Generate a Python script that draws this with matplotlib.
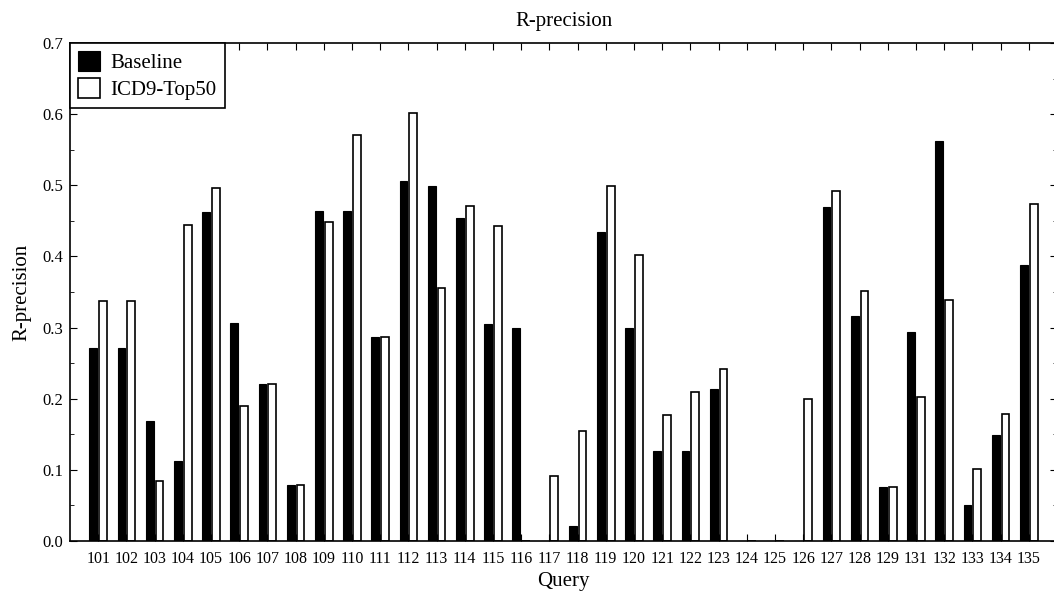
import numpy as np
import matplotlib
matplotlib.use('Agg')
import matplotlib.pyplot as plt
from matplotlib.ticker import MultipleLocator, FormatStrFormatter

plt.rcParams['font.family'] = ['Liberation Serif', 'DejaVu Serif']

queries = ['101', '102', '103', '104', '105', '106', '107', '108', '109', '110',
           '111', '112', '113', '114', '115', '116', '117', '118', '119', '120',
           '121', '122', '123', '124', '125', '126', '127', '128', '129', '131',
           '132', '133', '134', '135']
baseline = [0.271, 0.271, 0.168, 0.113, 0.462, 0.306, 0.220, 0.079, 0.464, 0.464,
            0.287, 0.506, 0.499, 0.454, 0.305, 0.299, 0.0, 0.021, 0.435, 0.299,
            0.126, 0.127, 0.214, 0.0, 0.0, 0.0, 0.470, 0.316, 0.076, 0.294,
            0.562, 0.051, 0.149, 0.388]
icd9 = [0.337, 0.337, 0.085, 0.444, 0.496, 0.190, 0.220, 0.079, 0.448, 0.570,
        0.287, 0.601, 0.355, 0.471, 0.443, 0.0, 0.092, 0.155, 0.499, 0.402,
        0.177, 0.209, 0.242, 0.0, 0.0, 0.200, 0.492, 0.351, 0.076, 0.203,
        0.339, 0.101, 0.178, 0.473]

x = np.arange(len(queries))
w = 0.28

fig = plt.figure(figsize=(10.54, 5.97), dpi=100)
# right spine sits just off the picture, as in the scanned original
ax = fig.add_axes([70/1054, 1 - 541/597, (1057 - 70)/1054, (541 - 43)/597])

ax.bar(x - 0.175, baseline, w, color='black', edgecolor='black', linewidth=0.8, label='Baseline')
ax.bar(x + 0.175, icd9, w, color='white', edgecolor='black', linewidth=1.2, label='ICD9-Top50')

ax.set_xlim(-1, 34)
ax.set_ylim(0, 0.7)
ax.set_xticks(x)
ax.set_xticklabels(queries, fontsize=11.5)
ax.yaxis.set_major_locator(MultipleLocator(0.1))
ax.yaxis.set_minor_locator(MultipleLocator(0.05))
ax.yaxis.set_major_formatter(FormatStrFormatter('%.1f'))
ax.tick_params(axis='both', which='both', direction='in', top=True, right=True)
ax.tick_params(axis='x', length=5, pad=7)
ax.tick_params(axis='y', which='major', length=5, labelsize=12, pad=5)
ax.tick_params(axis='y', which='minor', length=3)
ax.spines['right'].set_visible(False)
for s in ['left', 'bottom', 'top']:
    ax.spines[s].set_linewidth(1.2)

ax.set_title('R-precision', fontsize=15, pad=12)
ax.set_xlabel('Query', fontsize=15, labelpad=4)
ax.set_ylabel('R-precision', fontsize=15, labelpad=8)

leg = ax.legend(loc='upper left', fontsize=15, frameon=True, fancybox=False,
                borderaxespad=0, handlelength=1.05, handleheight=1.05,
                handletextpad=0.5, borderpad=0.4, labelspacing=0.25)
leg.get_frame().set_edgecolor('black')
leg.get_frame().set_linewidth(1.2)
leg.get_frame().set_alpha(1)

fig.savefig('out.png', dpi=100)
